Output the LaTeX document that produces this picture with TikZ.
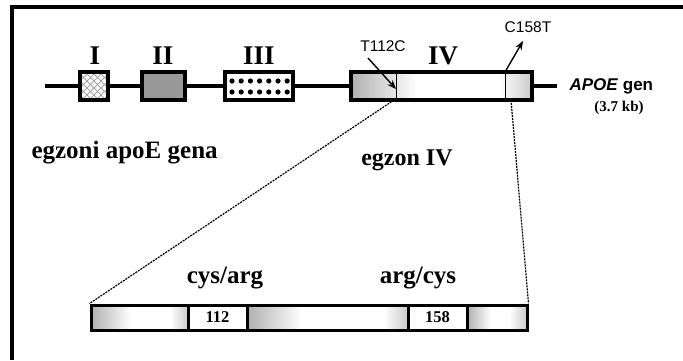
\documentclass[tikz,border=0pt]{standalone}
\usepackage{fontspec}
\setmainfont{Liberation Serif}
\newfontfamily\arialfont{Liberation Sans}
\usetikzlibrary{arrows.meta}

% horizontal bevel: dark rim on the left, lighter rim on the right
% #1,#2 = left x, right x; #3,#4 = top y, bottom y; #5,#6 = widths of the rims
\newcommand{\bevelfill}[6]{%
  \shade[left color=gray!62,right color=white] (#1,#3) rectangle ({#1+#5},#4);
  \shade[left color=white,right color=gray!42] ({#2-#6},#3) rectangle (#2,#4);}

\begin{document}
\begin{tikzpicture}[x=1pt,y=-1pt,
  exon/.style={draw,line width=3.6pt,inner sep=0pt,minimum height=28pt},
  seg/.style={draw,line width=3pt,inner sep=0pt,minimum height=25pt},
  roman/.style={font=\fontsize{27}{27}\selectfont\bfseries},
  lbl/.style={font=\fontsize{25}{25}\selectfont\bfseries},
  num/.style={font=\fontsize{16.5}{16.5}\selectfont\bfseries},
  mut/.style={font=\arialfont\fontsize{15.5}{15.5}\selectfont},
  zoomline/.style={dash pattern=on 2pt off 1pt,line width=1.2pt},
  ptr/.style={-{Stealth[length=9pt,width=7pt]},line width=1.4pt}]
\useasboundingbox (0,0) rectangle (683,360);

% open frame
\draw[line width=4.2pt] (683,7) -- (12,7) -- (12,360);

% exon I: coarse diamond hatching
\begin{scope}
  \clip (80,72) rectangle (108,100);
  \foreach \k in {-30,-23,...,40}{
    \draw[gray!70,line width=0.8pt] (80+\k,72) -- (108+\k,100);
    \draw[gray!70,line width=0.8pt] (108-\k,72) -- (80-\k,100);
  }
\end{scope}
% exon IV shading
\bevelfill{351}{532}{72}{100}{66}{34}

% exons of the gene
\node[exon,minimum width=28pt] (e1) at (94,86) {};
\node[exon,minimum width=43pt,fill=gray!85!black!70] (e2) at (163.5,86) {};
\node[exon,minimum width=68pt,fill=white] (e3) at (259,86) {};
\foreach \i in {0,...,6}{\foreach \j in {81,92}{
  \fill (232+\i*9.2,\j) circle (2.6pt);}}
\node[exon,minimum width=181pt] (e4) at (441.5,86) {};

% gene backbone
\coordinate (gl) at (45,86);
\coordinate (gr) at (557,86);
\draw[line width=3.6pt] (gl) -- (e1.west) (e1.east) -- (e2.west) (e2.east) -- (e3.west) (e3.east) -- (e4.west) (e4.east) -- (gr);

% codon marks in exon IV
\coordinate (m1t) at (396,72); \coordinate (m1b) at (396,100);
\coordinate (m2t) at (505,72); \coordinate (m2b) at (505,100);
\draw[line width=1pt] (m1t) -- (m1b) (m2t) -- (m2b);

% labels of exons
\node[roman] (lI) at (95,56) {I};
\node[roman] (lII) at (163,56) {II};
\node[roman] (lIII) at (259,56) {III};
\node[roman] (lIV) at (443,56) {IV};

% mutations
\node[mut] (t112) at (383,46) {T112C};
\node[mut] (c158) at (528,27) {C158T};
\coordinate (t112tail) at (368,58);
\coordinate (t112tip) at (396,89);
\coordinate (c158tip) at (523,41);
\draw[ptr] (t112tail) -- (t112tip);
\draw[ptr] (m2t) -- (c158tip);

% gene name
\node[anchor=west,font=\arialfont\bfseries\fontsize{17}{17}\selectfont] (gname) at (566,86) {\itshape APOE\/\upshape{} gen};
\node[font=\fontsize{15}{15}\selectfont\bfseries] (gsize) at (619,108) {(3.7 kb)};

\node[lbl,anchor=west] (egz) at (28,153) {egzoni apoE gena};
\node[lbl,font=\fontsize{24}{24}\selectfont\bfseries] (egz4) at (407,160) {egzon IV};

% expanded exon IV
\bevelfill{91}{188}{305}{330}{40}{18}
\bevelfill{247}{408}{305}{330}{55}{24}
\bevelfill{467}{527}{305}{330}{24}{18}
\node[seg,minimum width=97pt] (s1) at (139.5,317.5) {};
\node[seg,minimum width=59pt,fill=white,num] (b112) at (217.5,317.5) {112};
\node[seg,minimum width=161pt] (s2) at (327.5,317.5) {};
\node[seg,minimum width=59pt,fill=white,num] (b158) at (437.5,317.5) {158};
\node[seg,minimum width=60pt] (s3) at (497,317.5) {};

\node[lbl] (ca) at (225,278) {cys/arg};
\node[lbl] (ac) at (418,278) {arg/cys};

% zoom lines
\coordinate (z1) at (394,100);
\coordinate (z2) at (511,100);
\draw[zoomline] (z1) -- (s1.north west);
\draw[zoomline] (z2) -- (s3.north east);
\end{tikzpicture}
\end{document}
